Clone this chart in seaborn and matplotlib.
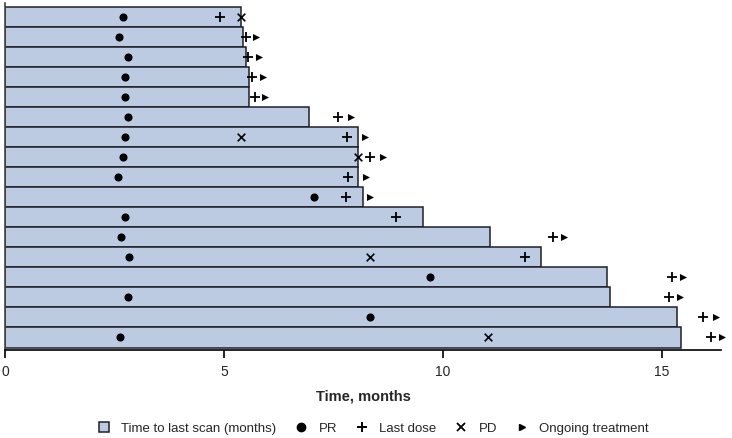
import numpy as np
import pandas as pd
import seaborn as sns
import matplotlib.pyplot as plt
from matplotlib.lines import Line2D

# Months, one row per patient, top row first
scan_time = [5.40, 5.44, 5.50, 5.57, 5.57, 6.94, 8.05, 8.07, 8.07, 8.18,
             9.55, 11.08, 12.24, 13.75, 13.81, 15.34, 15.43]
pr_time = [2.69, 2.61, 2.81, 2.75, 2.75, 2.81, 2.73, 2.70, 2.58, 7.06,
           2.75, 2.65, 2.83, 9.71, 2.80, 8.34, 2.62]
last_dose = [4.92, 5.51, 5.55, 5.64, 5.70, 7.61, 7.81, 8.34, 7.84, 7.78,
             8.92, 12.52, 11.87, 15.23, 15.16, 15.94, 16.13]
pd_rows = [0, 6, 7, 12, 16]
pd_time = [5.39, 5.38, 8.06, 8.33, 11.04]
ongoing_rows = [1, 2, 3, 4, 5, 6, 7, 8, 9, 11, 13, 14, 15, 16]
ongoing_time = [5.73, 5.79, 5.89, 5.93, 7.90, 8.23, 8.63, 8.25, 8.33,
                12.77, 15.48, 15.41, 16.23, 16.38]

bar_color = "#bccbe2"
edge_color = "#1e1f2a"

sns.set_style("white")
plt.rcParams["font.family"] = ["Liberation Sans", "DejaVu Sans"]

n = len(scan_time)
rows = list(range(n))
df = pd.DataFrame({"Patient": [f"P{i + 1}" for i in rows], "Time": scan_time})

fig = plt.figure(figsize=(7.32, 4.38), dpi=100)
ax = fig.add_axes([0.0068, 0.2009, 0.9782, 0.7922])

sns.barplot(data=df, x="Time", y="Patient", orient="h", width=1.0,
            color=bar_color, saturation=1, edgecolor=edge_color,
            linewidth=1.1, ax=ax)

ax.scatter(pr_time, rows, marker="o", s=34, color="black", linewidths=0,
           zorder=3, clip_on=False)
ax.scatter(last_dose, rows, marker="+", s=50, color="black", linewidths=1.3,
           zorder=3, clip_on=False)
ax.scatter(pd_time, pd_rows, marker="x", s=30, color="black", linewidths=1.2,
           zorder=3, clip_on=False)
ax.scatter(ongoing_time, ongoing_rows, marker=">", s=26, color="black",
           linewidths=0, zorder=3, clip_on=False)

ax.set_xlim(0, 16.35)
ax.set_ylim(16.625, -0.7)
ax.set_yticks([])
ax.set_ylabel("")
ax.set_xticks([0, 5, 10, 15])
ax.tick_params(axis="x", bottom=True, direction="out", length=6, width=1.2,
               color="black", labelsize=10, pad=5)
ax.set_xlabel("Time, months", fontsize=10.5, fontweight="bold", labelpad=7)
for s in ["top", "right"]:
    ax.spines[s].set_visible(False)
ax.spines["bottom"].set_color("black")
ax.spines["bottom"].set_linewidth(1.2)
ax.spines["left"].set_color("#444444")
ax.spines["left"].set_linewidth(1.2)

handles = [
    Line2D([], [], linestyle="none", marker="s", markersize=7,
           markerfacecolor=bar_color, markeredgecolor=edge_color,
           markeredgewidth=1.1),
    Line2D([], [], linestyle="none", marker="o", markersize=6,
           color="black"),
    Line2D([], [], linestyle="none", marker="+", markersize=7.5,
           markeredgewidth=1.4, color="black"),
    Line2D([], [], linestyle="none", marker="x", markersize=6,
           markeredgewidth=1.3, color="black"),
    Line2D([], [], linestyle="none", marker=">", markersize=5,
           color="black"),
]
labels = ["Time to last scan (months)", "PR", "Last dose", "PD",
          "Ongoing treatment"]
fig.legend(handles, labels, loc="center", bbox_to_anchor=(0.508, 0.021),
           ncol=5, frameon=False, fontsize=9.5, handlelength=1.4,
           handletextpad=0.6, columnspacing=1.2, borderaxespad=0)

fig.savefig("out.png", dpi=100)
